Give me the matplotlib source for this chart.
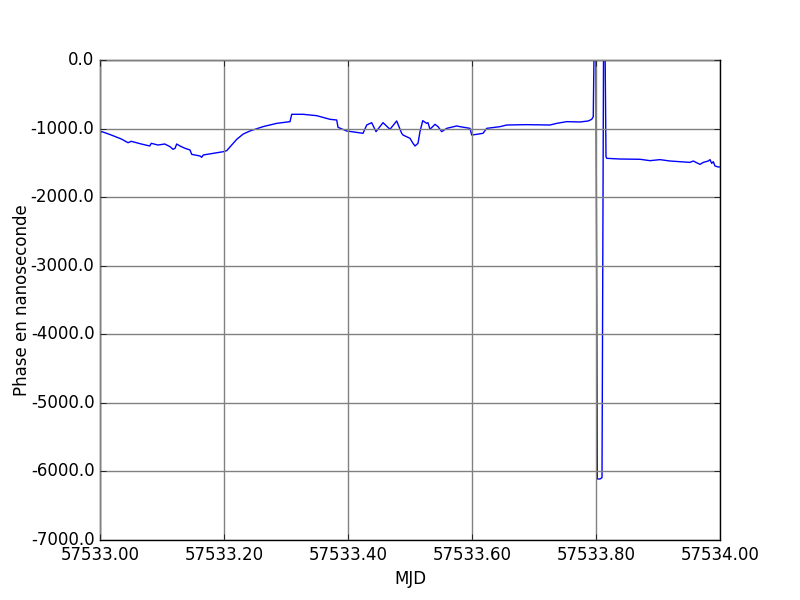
import matplotlib
matplotlib.use("Agg")
import matplotlib.pyplot as plt
from matplotlib.ticker import FormatStrFormatter, MultipleLocator

mjd_offset = [0.0000, 0.0032, 0.0182, 0.0344, 0.0452, 0.0505, 0.0666, 0.0802, 0.0827, 0.0935,
              0.1044, 0.1129, 0.1177, 0.1210, 0.1237, 0.1290, 0.1371, 0.1452, 0.1479, 0.1613,
              0.1640, 0.1666, 0.1827, 0.1989, 0.2044, 0.2124, 0.2205, 0.2311, 0.2419, 0.2629,
              0.2850, 0.3065, 0.3092, 0.3274, 0.3495, 0.3710, 0.3818, 0.3839, 0.3979, 0.4242,
              0.4302, 0.4382, 0.4452, 0.4565, 0.4677, 0.4785, 0.4866, 0.4887, 0.5000, 0.5048,
              0.5081, 0.5129, 0.5161, 0.5205, 0.5269, 0.5290, 0.5323, 0.5403, 0.5452, 0.5511,
              0.5592, 0.5753, 0.5806, 0.5968, 0.5995, 0.6076, 0.6177, 0.6237, 0.6452, 0.6560,
              0.6882, 0.7258, 0.7366, 0.7527, 0.7742, 0.7876, 0.7931, 0.7956, 0.7992, 0.8021,
              0.8065, 0.8097, 0.8129, 0.8161, 0.8173, 0.8387, 0.8710, 0.8871, 0.9032, 0.9194,
              0.9355, 0.9516, 0.9569, 0.9677, 0.9731, 0.9812, 0.9839, 0.9866, 0.9892, 0.9919,
              0.9973, 1.0000]
phase_ns = [-1060, -1045, -1094, -1152, -1206, -1186, -1225, -1254, -1215, -1240,
            -1225, -1264, -1302, -1288, -1225, -1254, -1288, -1312, -1376, -1400,
            -1419, -1385, -1361, -1337, -1322, -1240, -1157, -1079, -1035, -972,
            -924, -899, -792, -792, -812, -865, -875, -982, -1035, -1069,
            -948, -914, -1045, -914, -1011, -889, -1069, -1094, -1142, -1215,
            -1254, -1215, -1045, -885, -924, -914, -1011, -938, -972, -1045,
            -997, -962, -972, -997, -1094, -1084, -1069, -997, -972, -948,
            -943, -948, -924, -899, -904, -889, -865, -826, 2000, -6110,
            -6110, -6090, 2000, -1410, -1434, -1444, -1448, -1468, -1453, -1473,
            -1483, -1493, -1473, -1522, -1493, -1473, -1453, -1507, -1483, -1546,
            -1560, -1560]
mjd_base = 57533.0
mjd = [mjd_base + v for v in mjd_offset]

plt.style.use("classic")
plt.rcParams["axes.unicode_minus"] = False
fig = plt.figure(figsize=(8, 6), dpi=100)
ax = fig.add_subplot(111)
ax.plot(mjd, phase_ns, color="blue", linewidth=1)
ax.set_xlim(57533.0, 57534.0)
ax.set_ylim(-7000, 0)
ax.xaxis.set_major_locator(MultipleLocator(0.2))
ax.yaxis.set_major_locator(MultipleLocator(1000))
ax.xaxis.set_major_formatter(FormatStrFormatter("%.2f"))
ax.yaxis.set_major_formatter(FormatStrFormatter("%.1f"))
ax.grid(True, color="gray", linestyle="-", linewidth=1)
ax.set_xlabel("MJD")
ax.set_ylabel("Phase en nanoseconde")
ax.yaxis.set_label_coords(-0.112, 0.5)
fig.savefig("out.png", dpi=100, facecolor="white")
